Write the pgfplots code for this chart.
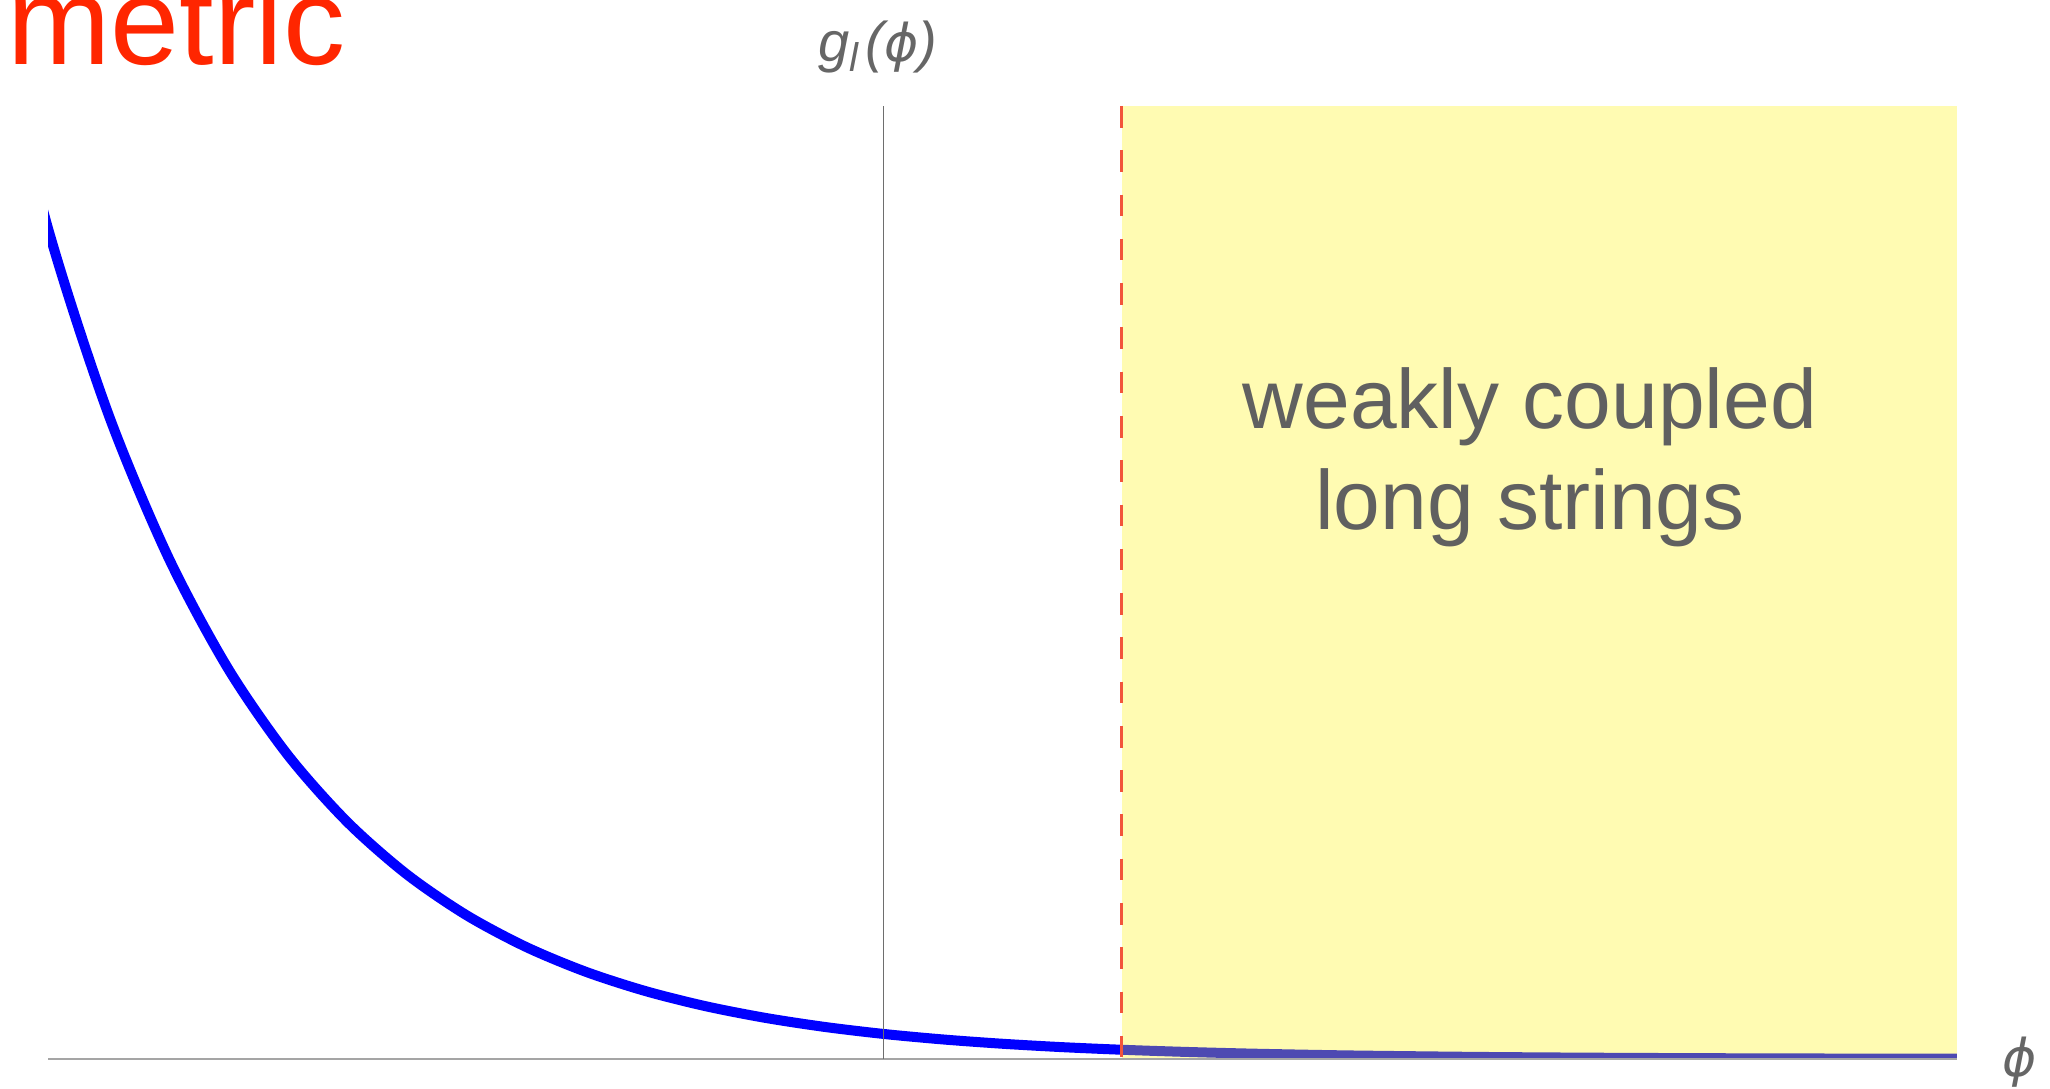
\documentclass[border=0pt]{standalone}
\usepackage{fontspec}
\setmainfont{Liberation Sans}
\newfontfamily\dejavu{DejaVu Sans}
\usepackage{pgfplots}
\pgfplotsset{compat=1.18}
\definecolor{metricred}{RGB}{255,38,0}
\definecolor{txtgray}{RGB}{96,96,96}
\definecolor{lblgray}{RGB}{102,102,102}
\definecolor{dashred}{RGB}{242,84,60}
\begin{document}
\begin{tikzpicture}[x=1pt,y=1pt]
\begin{axis}[
  at={(12pt,7.5pt)}, anchor=south west,
  scale only axis, width=477.25pt, height=238.25pt,
  xmin=-3.5, xmax=4.5, ymin=0, ymax=38,
  axis lines=middle,
  axis line style={-},
  x axis line style={draw={rgb,255:red,165;green,165;blue,165}, line width=0.5pt},
  y axis line style={draw={rgb,255:red,110;green,110;blue,110}, line width=0.3pt},
  xtick=\empty, ytick=\empty,
  axis on top,
  clip=true,
]
\addplot[blue, line width=2.5pt, smooth] coordinates {
(-3.75,42.52) (-3.5,33.12) (-3.25,25.79) (-3.0,20.09) (-2.75,15.64) (-2.5,12.18)
(-2.25,9.49) (-2.0,7.389) (-1.75,5.755) (-1.5,4.482) (-1.25,3.490)
(-1.0,2.718) (-0.75,2.117) (-0.5,1.649) (-0.25,1.284) (0,1.0)
(0.25,0.779) (0.5,0.607) (0.75,0.472) (1.0,0.368) (1.25,0.287)
(1.5,0.223) (1.75,0.174) (2.0,0.135) (2.5,0.082) (3.0,0.050)
(3.5,0.030) (4.0,0.018) (4.5,0.011) (4.75,0.009)
};
\addplot[draw=none, fill=yellow, fill opacity=0.3] coordinates {
(1,0) (4.5,0) (4.5,38) (1,38)
} --cycle;
\addplot[dashred, line width=0.7pt, dash pattern=on 5.4pt off 5.67pt] coordinates {
(1,38) (1,0)
};
\end{axis}
\node[anchor=base west, inner sep=0pt, text=metricred, font=\fontsize{31}{31}\selectfont] at (1.7pt,256pt) {metric};
\node[anchor=base, inner sep=0pt, text=txtgray, font=\fontsize{21}{21}\selectfont] at (382.5pt,165pt) {weakly coupled};
\node[anchor=base, inner sep=0pt, text=txtgray, font=\fontsize{21}{21}\selectfont] at (382.5pt,139.75pt) {long strings};
\node[anchor=base, inner sep=0pt, text=lblgray, font=\fontsize{14}{14}\selectfont\itshape] at (219.5pt,256.75pt) {g\raisebox{-2.5pt}{\fontsize{10}{10}\selectfont l}\hspace{1.8pt}({\dejavu\fontsize{13}{13}\selectfont\itshape ϕ})};
\node[anchor=base, inner sep=0pt, text=lblgray, font=\dejavu\fontsize{13}{13}\selectfont\itshape] at (505pt,3pt) {ϕ};
\pgfresetboundingbox
\path (0pt,0pt) rectangle (512.5pt,272.25pt);
\end{tikzpicture}
\end{document}
